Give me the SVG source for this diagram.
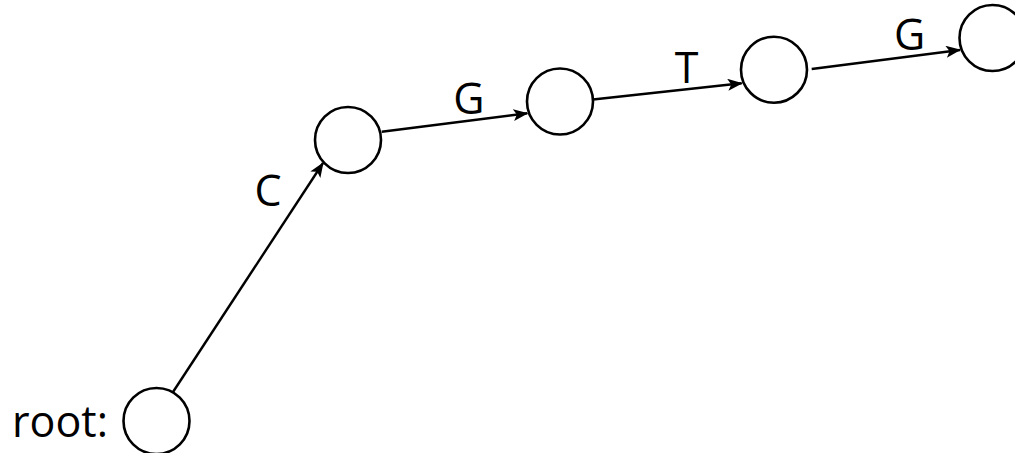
<svg xmlns="http://www.w3.org/2000/svg" width="1015" height="453" viewBox="0 0 1015 453">
<style>
.node{fill:#fff;stroke:#000;stroke-width:2.6}
.edge{fill:none;stroke:#000;stroke-width:2.4;marker-end:url(#arr)}
.lbl{font-family:"Open Sans","Noto Sans",sans-serif;font-size:43px;font-weight:500;fill:#000}
</style>
<defs>
<marker id="arr" markerUnits="userSpaceOnUse" markerWidth="15" markerHeight="12" refX="14" refY="6" orient="auto">
<path d="M0,0 L15,6 L0,12 L3.5,6 z" fill="#000"/>
</marker>
</defs>
<rect width="1015" height="453" fill="#fff"/>
<g id="connectors">
<line class="edge" x1="173" y1="392" x2="323" y2="163"/>
<line class="edge" x1="381.7" y1="131.7" x2="527.3" y2="113.3"/>
<line class="edge" x1="593" y1="99.5" x2="741.7" y2="83.3"/>
<line class="edge" x1="811.7" y1="69" x2="960" y2="50"/>
</g>
<g id="root">
<text class="lbl" x="12" y="437">root:</text>
<circle class="node" cx="156.5" cy="421" r="33"/>
</g>
<g id="n1">
<circle class="node" cx="348" cy="140" r="33"/>
</g>
<g id="n2">
<circle class="node" cx="560" cy="101.5" r="33"/>
</g>
<g id="n3">
<circle class="node" cx="774" cy="69.7" r="33"/>
</g>
<g id="n4">
<circle class="node" cx="992.5" cy="38" r="33"/>
</g>
<g id="labels">
<text class="lbl" x="268" y="206" text-anchor="middle">C</text>
<text class="lbl" x="469" y="114" text-anchor="middle">G</text>
<text class="lbl" x="686.7" y="82.5" text-anchor="middle">T</text>
<text class="lbl" x="909.7" y="49.5" text-anchor="middle">G</text>
</g>
</svg>
